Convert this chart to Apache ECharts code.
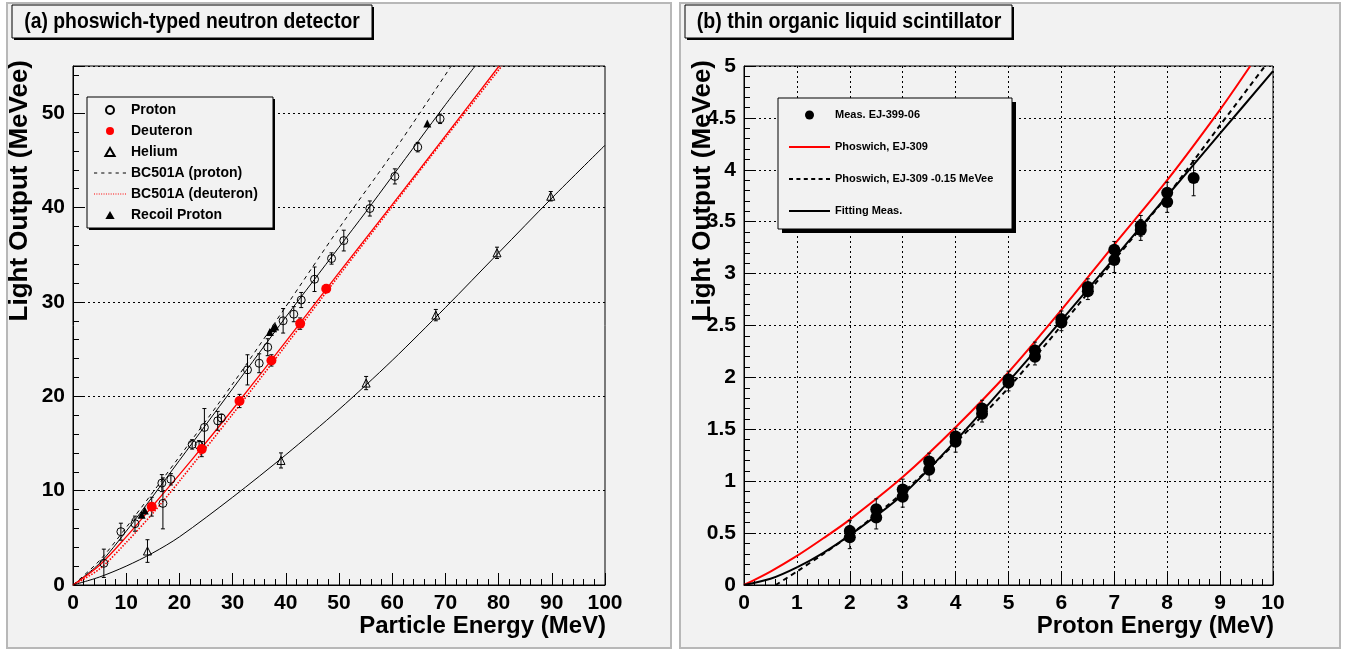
<!DOCTYPE html>
<html><head><meta charset="utf-8">
<script src="https://cdn.jsdelivr.net/npm/echarts@6.0.0/dist/echarts.min.js"></script>
<style>html,body{margin:0;padding:0;background:#fff}#c{width:1345px;height:650px}</style>
</head><body><div id="c"></div>
<script>
// ---------- Panel (a) data ----------
const protonE   = [5.8, 9.0, 11.65, 16.7, 16.9, 18.4, 22.4, 23.7, 24.7, 27.2, 27.9, 32.8, 35.0, 36.6, 39.5, 41.5, 42.9, 45.4, 48.6, 50.9, 55.8, 60.5, 64.8, 69.0];
const protonL   = [2.3, 5.65, 6.5, 10.8, 8.65, 11.2, 14.9, 14.8, 16.7, 17.4, 17.7, 22.8, 23.5, 25.2, 28.0, 28.7, 30.2, 32.4, 34.6, 36.5, 39.9, 43.3, 46.4, 49.4];
const protonErr = [1.5, 0.9, 0.8, 0.9, 2.7, 0.6, 0.5, 0.5, 2.0, 1.0, 0.4, 1.6, 1.0, 0.9, 1.3, 0.8, 0.8, 1.3, 0.6, 1.1, 0.8, 0.8, 0.5, 0.5];

const deutE   = [14.8, 24.2, 31.3, 37.3, 42.7, 47.6];
const deutL   = [8.3, 14.4, 19.5, 23.8, 27.7, 31.4];
const deutErr = [1.0, 0.8, 0.7, 0.6, 0.6, 0.4];

const heliumE   = [14.0, 39.1, 55.1, 68.2, 79.7, 89.8];
const heliumL   = [3.6, 13.2, 21.4, 28.6, 35.2, 41.2];
const heliumErr = [1.2, 0.8, 0.7, 0.6, 0.6, 0.5];

const recoilE = [12.9, 13.5, 37.0, 37.6, 38.0, 66.6];
const recoilL = [7.45, 7.9, 26.8, 27.2, 27.4, 48.9];

const pFitE = [0, 5, 10, 15, 20, 25, 30, 35, 40, 45, 50, 55, 60, 65, 70, 75.6];
const pFitL = [0, 2.3, 5.7, 9.4, 13.2, 17.0, 20.8, 24.6, 28.4, 32.1, 35.8, 39.5, 43.3, 47.1, 50.9, 55];

const bcpE = [0, 5, 10, 20, 30, 40, 50, 60, 71.1];
const bcpL = [0, 2.6, 6.1, 13.6, 21.3, 29.5, 37.8, 45.7, 55];

const dFitE = [0, 5, 10, 15, 20, 25, 30, 40, 50, 60, 70, 80.1];
const dFitL = [0, 2.1, 5.1, 8.4, 11.7, 15.1, 18.6, 25.8, 33.1, 40.3, 47.6, 55];

const bcdE = [0, 5, 10, 15, 20, 30, 40, 50, 60, 70, 80.6];
const bcdL = [0, 1.7, 4.5, 7.6, 11.0, 18.1, 25.4, 32.8, 40.1, 47.4, 55];

const hFitE = [0, 5, 10, 15, 20, 30, 40, 50, 60, 70, 80, 90, 100];
const hFitL = [0, 0.85, 2.0, 3.4, 5.1, 9.3, 13.8, 18.6, 23.8, 29.4, 35.2, 41.0, 46.6];

// ---------- Panel (b) data ----------
const measE   = [2, 2, 2.5, 2.5, 3, 3, 3.5, 3.5, 4, 4, 4.5, 4.5, 5, 5, 5.5, 5.5, 6, 6, 6.5, 6.5, 7, 7, 7.5, 7.5, 8, 8, 8.5];
const measL   = [0.46, 0.52, 0.65, 0.73, 0.85, 0.92, 1.11, 1.19, 1.38, 1.43, 1.65, 1.70, 1.95, 1.98, 2.20, 2.26, 2.53, 2.56, 2.83, 2.87, 3.13, 3.23, 3.42, 3.46, 3.69, 3.78, 3.92];
const measErr = [0.11, 0.1, 0.11, 0.1, 0.1, 0.1, 0.1, 0.08, 0.1, 0.08, 0.08, 0.08, 0.08, 0.08, 0.08, 0.08, 0.08, 0.08, 0.08, 0.08, 0.12, 0.08, 0.1, 0.1, 0.1, 0.1, 0.17];

const redE = [0, 0.5, 1, 1.5, 2, 3, 4, 5, 6, 7, 8, 9, 9.57];
const redL = [0, 0.13, 0.28, 0.45, 0.63, 1.04, 1.52, 2.05, 2.65, 3.28, 3.9, 4.58, 5.0];

const dashE = [0.6, 1, 1.5, 2, 3, 4, 5, 6, 7, 8, 9, 9.85];
const dashL = [0, 0.13, 0.30, 0.48, 0.89, 1.37, 1.90, 2.50, 3.13, 3.75, 4.43, 5.0];

const fitE = [0, 0.5, 1, 1.5, 2, 3, 4, 5, 6, 7, 8, 9, 10];
const fitL = [0, 0.06, 0.17, 0.31, 0.48, 0.87, 1.39, 1.96, 2.55, 3.15, 3.75, 4.35, 4.95];

const leftXTicks = {min: 0, max: 100, interval: 10};
const leftYTicks = {min: 0, max: 55, interval: 10};
const rightXTicks = {min: 0, max: 10, interval: 1};
const rightYTicks = {min: 0, max: 5, interval: 0.5};

// ---------- helpers ----------
const zip2 = (a, b) => a.map((v, i) => [v, b[i]]);
const zip3 = (a, b, c) => a.map((v, i) => [v, b[i], c[i]]);
const FONT = 'Liberation Sans';

function errRender(params, api) {
  const x = api.value(0), y = api.value(1), e = api.value(2);
  const hi = api.coord([x, y + e]), lo = api.coord([x, y - e]);
  const w = 2;
  const st = {stroke: '#000', lineWidth: 1};
  return {type: 'group', children: [
    {type: 'line', shape: {x1: hi[0], y1: hi[1], x2: lo[0], y2: lo[1]}, style: st},
    {type: 'line', shape: {x1: hi[0] - w, y1: hi[1], x2: hi[0] + w, y2: hi[1]}, style: st},
    {type: 'line', shape: {x1: lo[0] - w, y1: lo[1], x2: lo[0] + w, y2: lo[1]}, style: st}
  ]};
}
function errSeries(name, xi, data) {
  return {type: 'custom', name, xAxisIndex: xi, yAxisIndex: xi, renderItem: errRender,
          encode: {x: 0, y: 1}, data, z: 3, silent: true};
}

function mkAxis(grid, ticks, split, minorSplit) {
  return Object.assign({
    type: 'value', gridIndex: grid,
    axisLine: {show: true, onZero: false, lineStyle: {color: '#000', width: 1}},
    axisTick: {show: true, inside: true, length: 12, lineStyle: {color: '#000'}},
    minorTick: {show: true, splitNumber: minorSplit, length: 6, lineStyle: {color: '#000'}},
    axisLabel: {color: '#000', fontSize: 21, fontWeight: 'bold', fontFamily: FONT, margin: 8, showMaxLabel: true},
    splitLine: {show: split, lineStyle: {color: '#000', type: [2, 3], width: 1}}
  }, ticks);
}

const xA0 = mkAxis(0, leftXTicks, false, 5);
const yA0 = mkAxis(0, leftYTicks, true, 5);
yA0.axisLabel.showMaxLabel = false;
const xA1 = mkAxis(1, rightXTicks, true, 5);
const yA1 = mkAxis(1, rightYTicks, true, 5);

const lineS = (name, xi, E, L, color, width, type) => ({
  type: 'line', name, xAxisIndex: xi, yAxisIndex: xi, data: zip2(E, L),
  smooth: 0.3, symbol: 'none', showSymbol: false, silent: true, z: 2,
  lineStyle: {color, width, type}, itemStyle: {color}
});

const openStyle = {color: 'rgba(0,0,0,0)', borderColor: '#000', borderWidth: 1, opacity: 1};

const series = [
  // panel a
  lineS('pfit', 0, pFitE, pFitL, '#000', 1, 'solid'),
  lineS('BC501A (proton)', 0, bcpE, bcpL, '#000', 1, [4, 4]),
  lineS('dfit', 0, dFitE, dFitL, '#ff0000', 1.3, 'solid'),
  lineS('BC501A (deuteron)', 0, bcdE, bcdL, '#ff0000', 1.6, [1.5, 1.5]),
  lineS('hfit', 0, hFitE, hFitL, '#000', 1, 'solid'),
  errSeries('errP', 0, zip3(protonE, protonL, protonErr)),
  errSeries('errD', 0, zip3(deutE, deutL, deutErr)),
  errSeries('errH', 0, zip3(heliumE, heliumL, heliumErr)),
  {type: 'scatter', name: 'Proton', xAxisIndex: 0, yAxisIndex: 0, data: zip2(protonE, protonL),
   symbol: 'circle', symbolSize: 8, itemStyle: openStyle, z: 4, silent: true},
  {type: 'scatter', name: 'Deuteron', xAxisIndex: 0, yAxisIndex: 0, data: zip2(deutE, deutL),
   symbol: 'circle', symbolSize: 10, itemStyle: {color: '#ff0000', opacity: 1}, z: 4, silent: true},
  {type: 'scatter', name: 'Helium', xAxisIndex: 0, yAxisIndex: 0, data: zip2(heliumE, heliumL),
   symbol: 'triangle', symbolSize: 8, itemStyle: openStyle, z: 4, silent: true},
  {type: 'scatter', name: 'Recoil Proton', xAxisIndex: 0, yAxisIndex: 0, data: zip2(recoilE, recoilL),
   symbol: 'triangle', symbolSize: 8, itemStyle: {color: '#000', opacity: 1}, z: 4, silent: true},
  // panel b
  lineS('Phoswich, EJ-309', 1, redE, redL, '#ff0000', 2, 'solid'),
  lineS('Phoswich, EJ-309 -0.15 MeVee', 1, dashE, dashL, '#000', 2, [5, 4]),
  lineS('Fitting Meas.', 1, fitE, fitL, '#000', 2, 'solid'),
  errSeries('errM', 1, zip3(measE, measL, measErr)),
  {type: 'scatter', name: 'Meas. EJ-399-06', xAxisIndex: 1, yAxisIndex: 1, data: zip2(measE, measL),
   symbol: 'circle', symbolSize: 12, itemStyle: {color: '#000', opacity: 1}, z: 4, silent: true}
];

// legend icon paths (pattern segments laid out along the icon width)
function segPath(total, n, seg, h) {
  const gap = n > 1 ? (total - n * seg) / (n - 1) : 0;
  let p = 'path://';
  for (let i = 0; i < n; i++) {
    const x0 = i * (seg + gap), x1 = x0 + seg;
    p += `M${x0.toFixed(2)},0L${x1.toFixed(2)},0L${x1.toFixed(2)},${h}L${x0.toFixed(2)},${h}Z`;
  }
  return p;
}
const triPath = 'path://M5,0L10,8.66L0,8.66Z';

const legendText = (size) => ({color: '#000', fontWeight: 'bold', fontFamily: FONT, fontSize: size, lineHeight: 14});
const TF = (sz) => `bold ${sz}px "Liberation Sans"`;

const graphic = [
  // panels
  {type: 'rect', z: -10, shape: {x: 7, y: 3, width: 664, height: 645}, style: {fill: '#f2f2f2', stroke: '#b8b8b8', lineWidth: 2}},
  {type: 'rect', z: -10, shape: {x: 680, y: 3, width: 660, height: 645}, style: {fill: '#f2f2f2', stroke: '#b8b8b8', lineWidth: 2}},
  // title boxes
  {type: 'rect', z: 3, shape: {x: 14, y: 7, width: 360, height: 33}, style: {fill: '#000'}},
  {type: 'rect', z: 3, shape: {x: 12, y: 5, width: 360, height: 33}, style: {fill: '#f2f2f2', stroke: '#000', lineWidth: 1}},
  {type: 'text', z: 4, x: 192, y: 22, scaleX: 0.88, style: {text: '(a) phoswich-typed neutron detector', fill: '#000', font: TF(22), align: 'center', verticalAlign: 'middle'}},
  {type: 'rect', z: 3, shape: {x: 687, y: 7, width: 327, height: 33}, style: {fill: '#000'}},
  {type: 'rect', z: 3, shape: {x: 685, y: 5, width: 327, height: 33}, style: {fill: '#f2f2f2', stroke: '#000', lineWidth: 1}},
  {type: 'text', z: 4, x: 849, y: 22, scaleX: 0.89, style: {text: '(b) thin organic liquid scintillator', fill: '#000', font: TF(22), align: 'center', verticalAlign: 'middle'}},
  // axis titles
  {type: 'text', z: 4, x: 20, y: 60, rotation: Math.PI / 2, style: {text: 'Light Output (MeVee)', fill: '#000', font: TF(26), align: 'right', verticalAlign: 'middle'}},
  {type: 'text', z: 4, x: 703, y: 60, rotation: Math.PI / 2, style: {text: 'Light Output (MeVee)', fill: '#000', font: TF(26), align: 'right', verticalAlign: 'middle'}},
  {type: 'text', z: 4, x: 606, y: 626, style: {text: 'Particle Energy (MeV)', fill: '#000', font: TF(24), align: 'right', verticalAlign: 'middle'}},
  {type: 'text', z: 4, x: 1274, y: 626, style: {text: 'Proton Energy (MeV)', fill: '#000', font: TF(24), align: 'right', verticalAlign: 'middle'}},
  // legend boxes
  {type: 'rect', z: 5, shape: {x: 89, y: 99, width: 186, height: 131}, style: {fill: '#000'}},
  {type: 'rect', z: 5, shape: {x: 87, y: 97, width: 186, height: 131}, style: {fill: '#f2f2f2', stroke: '#000', lineWidth: 1}},
  {type: 'rect', z: 5, shape: {x: 782, y: 102, width: 234, height: 131}, style: {fill: '#000'}},
  {type: 'rect', z: 5, shape: {x: 778, y: 98, width: 234, height: 131}, style: {fill: '#f2f2f2', stroke: '#000', lineWidth: 1}}
];

const option = {
  animation: false,
  backgroundColor: 'transparent',
  grid: [
    {left: 73, right: 1345 - 605, top: 66, bottom: 650 - 585, show: true, borderColor: '#000', borderWidth: 1, backgroundColor: 'transparent'},
    {left: 744, right: 1345 - 1273, top: 66, bottom: 650 - 585, show: true, borderColor: '#000', borderWidth: 1, backgroundColor: 'transparent'}
  ],
  xAxis: [xA0, xA1],
  yAxis: [yA0, yA1],
  legend: [
    {data: [
       {name: 'Proton'},
       {name: 'Deuteron'},
       {name: 'Helium', icon: triPath},
       {name: 'BC501A (proton)', icon: segPath(32, 5, 3.2, 1), itemStyle: {color: '#000', borderWidth: 0}},
       {name: 'BC501A (deuteron)', icon: segPath(32, 14, 1, 1.2), itemStyle: {color: '#ff0000', borderWidth: 0}},
       {name: 'Recoil Proton', icon: triPath}
     ],
     orient: 'vertical', left: 94, top: 103, itemWidth: 32, itemHeight: 8, itemGap: 7, padding: 0,
     symbolKeepAspect: true, selectedMode: false, z: 10, textStyle: legendText(14)},
    {data: [
       {name: 'Meas. EJ-399-06'},
       {name: 'Phoswich, EJ-309', icon: segPath(41, 1, 41, 2), itemStyle: {color: '#ff0000', borderWidth: 0}},
       {name: 'Phoswich, EJ-309 -0.15 MeVee', icon: segPath(41, 6, 4, 2), itemStyle: {color: '#000', borderWidth: 0}},
       {name: 'Fitting Meas.', icon: segPath(41, 1, 41, 2), itemStyle: {color: '#000', borderWidth: 0}}
     ],
     orient: 'vertical', left: 789, top: 108, itemWidth: 41, itemHeight: 9, itemGap: 18, padding: 0,
     symbolKeepAspect: true, selectedMode: false, z: 10, textStyle: legendText(11)}
  ],
  graphic,
  series
};

const chart = echarts.init(document.getElementById('c'), null, {renderer: 'canvas'});
chart.setOption(option);
</script></body></html>
